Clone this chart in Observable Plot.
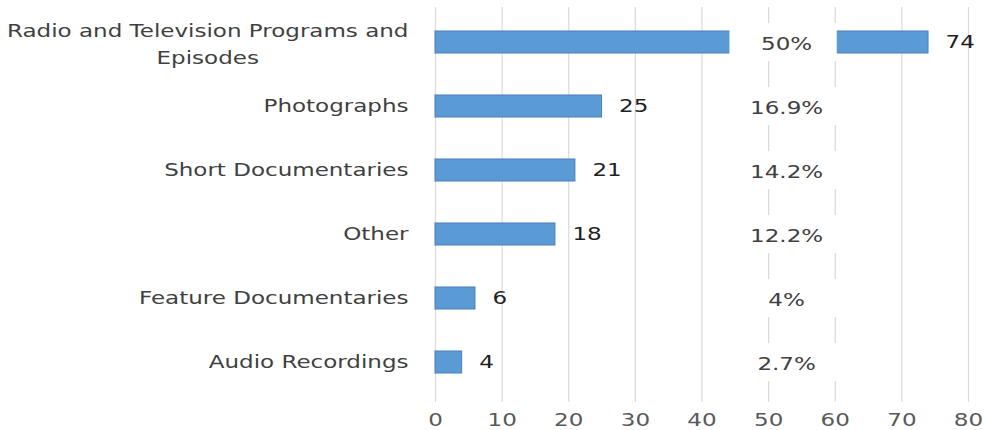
<!DOCTYPE html>
<html><head><meta charset="utf-8">
<script src="https://cdn.jsdelivr.net/npm/d3@7"></script>
<script src="https://cdn.jsdelivr.net/npm/@observablehq/plot@0.6"></script>
<style>html,body{margin:0;padding:0;background:#fff} svg{display:block}</style>
</head><body><div id="chart"></div>
<script>
const categories = ["Radio and Television Programs and\nEpisodes", "Photographs", "Short Documentaries", "Other", "Feature Documentaries", "Audio Recordings"];
const counts = [74, 25, 21, 18, 6, 4];
const percentLabels = ["50%", "16.9%", "14.2%", "12.2%", "4%", "2.7%"];
const xTicks = [0, 10, 20, 30, 40, 50, 60, 70, 80];
const pctLabelX = 52.25;   // where the percentage labels sit, in x units
const pctBoxHalf = 8.05;   // half width of their white label box, in x units

const rows = categories.map((c, i) => ({category: c, count: counts[i], pct: percentLabels[i]}));

const FONT = "DejaVu Sans";
const FS = 17.5;
const SX = 1.315; // horizontal stretch of the original's lettering

const ctx = document.createElement("canvas").getContext("2d");
ctx.font = `${FS}px '${FONT}'`;
const firstLine = categories[0].split("\n")[0];
const wFirst = ctx.measureText(firstLine).width * SX;
const labelGap = 27;

const single = rows.filter(d => !d.category.includes("\n"));
const multi = rows.filter(d => d.category.includes("\n"));

const chart = Plot.plot({
  width: 984,
  height: 430,
  marginLeft: 435,
  marginRight: 16,
  marginTop: 7,
  marginBottom: 28,
  style: {fontFamily: FONT, fontSize: FS + "px", color: "#595959", background: "#fff"},
  x: {domain: [0, 80], ticks: xTicks, tickSize: 0, tickPadding: 11, label: null},
  y: {domain: categories, range: [9, 394], paddingInner: 0.66, paddingOuter: 0.33, axis: null},
  marks: [
    Plot.ruleX(xTicks, {stroke: "#d9d9d9", strokeWidth: 1.2}),
    Plot.barX(rows, {x: "count", y: "category", fill: "#5B9BD5", stroke: "#4A7EBB", strokeWidth: 1}),
    Plot.barX(rows, {x1: () => pctLabelX - pctBoxHalf, x2: () => pctLabelX + pctBoxHalf, y: "category", fill: "#fff", insetTop: -8, insetBottom: -8}),
    Plot.text(rows, {x: "count", y: "category", text: d => String(d.count), textAnchor: "start", dx: 17, fill: "#1f1f1f", fontSize: FS}),
    Plot.text(rows, {x: () => pctLabelX, y: "category", text: "pct", textAnchor: "middle", dx: 3, dy: 2, fill: "#404040", fontSize: FS}),
    Plot.text(single, {y: "category", frameAnchor: "left", text: "category", textAnchor: "end", dx: -labelGap, fill: "#404040", fontSize: FS}),
    Plot.text(multi, {y: "category", frameAnchor: "left", text: "category", textAnchor: "middle", dx: -(labelGap + wFirst / 2), dy: -1, lineHeight: 1.55, fill: "#404040", fontSize: FS})
  ]
});

// stretch all lettering horizontally around its anchor, like the original
chart.querySelectorAll("text").forEach(t => {
  const tr = t.getAttribute("transform");
  if (tr && !t.hasAttribute("x")) {
    t.setAttribute("transform", tr + ` scale(${SX},1)`);
  }
});

document.getElementById("chart").append(chart);
</script>
</body></html>
